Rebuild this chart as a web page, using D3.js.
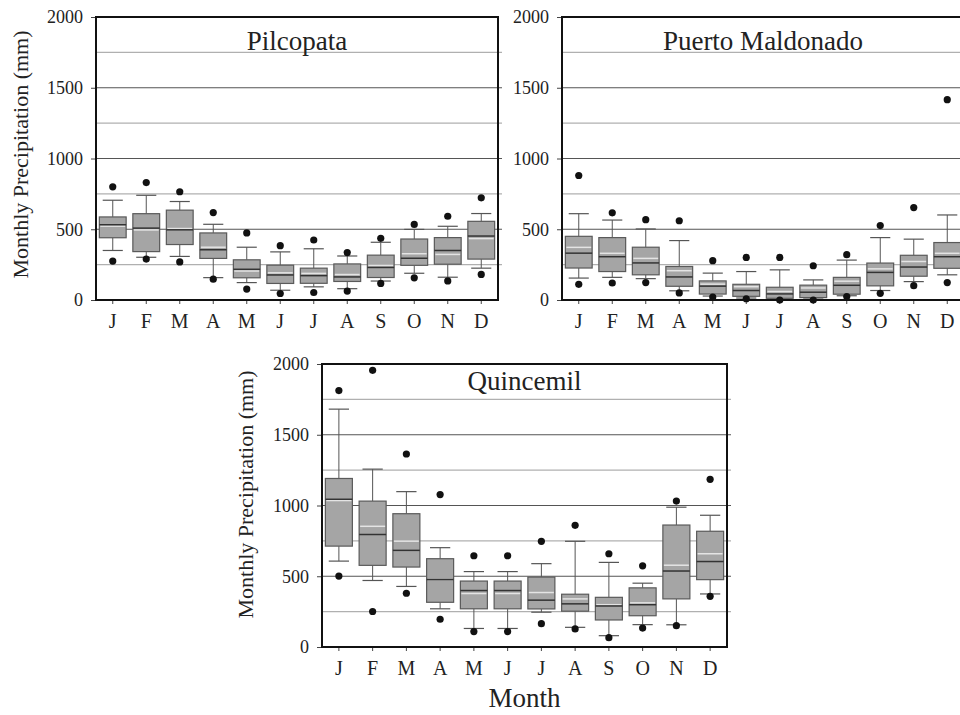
<!DOCTYPE html>
<html>
<head>
<meta charset="utf-8">
<script src="https://cdn.jsdelivr.net/npm/d3@7"></script>
<style>
  html, body { margin: 0; padding: 0; background: #fff; }
  svg { display: block; }
  text { font-family: "Liberation Serif", "Times New Roman", Times, "DejaVu Serif", serif; fill: #222; }
</style>
</head>
<body>
<svg id="chart" width="960" height="715"></svg>
<script>
// Month initials along the x axis
const months = ["J", "F", "M", "A", "M", "J", "J", "A", "S", "O", "N", "D"];
const yTicks = [0, 500, 1000, 1500, 2000];
const gridValues = [250, 500, 750, 1000, 1250, 1500, 1750];

// Pilcopata monthly precipitation statistics (mm)
const pilcopataOutHigh = [800, 830, 765, 618, 474, 384, 424, 335, 436, 534, 592, 722];
const pilcopataWhiskHigh = [705, 740, 696, 535, 373, 340, 362, 311, 408, 499, 521, 611];
const pilcopataQ3 = [587, 610, 635, 474, 284, 246, 225, 255, 317, 431, 441, 556];
const pilcopataMean = [522, 495, 505, 373, 205, 192, 188, 180, 244, 327, 322, 434];
const pilcopataMedian = [532, 508, 496, 355, 217, 177, 172, 163, 230, 295, 350, 452];
const pilcopataQ1 = [440, 342, 392, 294, 157, 117, 118, 131, 159, 245, 253, 289];
const pilcopataWhiskLow = [350, 302, 308, 158, 123, 69, 93, 80, 134, 189, 161, 225];
const pilcopataOutLow = [275, 289, 269, 147, 77, 46, 53, 63, 117, 157, 135, 181];

// Puerto Maldonado monthly precipitation statistics (mm)
const maldonadoOutHigh = [880, 616, 568, 560, 278, 301, 301, 242, 320, 526, 653, 1416];
const maldonadoWhiskHigh = [610, 565, 502, 420, 190, 201, 213, 142, 282, 441, 430, 601];
const maldonadoQ3 = [450, 441, 373, 237, 135, 111, 90, 105, 160, 261, 316, 406];
const maldonadoMean = [372, 330, 294, 207, 112, 94, 60, 85, 133, 220, 272, 330];
const maldonadoMedian = [331, 306, 262, 163, 98, 67, 43, 55, 104, 195, 233, 306];
const maldonadoQ1 = [226, 201, 178, 97, 42, 26, 12, 17, 41, 100, 168, 224];
const maldonadoWhiskLow = [155, 160, 151, 65, 28, 14, 5, 7, 30, 67, 130, 178];
const maldonadoOutLow = [111, 120, 123, 50, 21, 9, 0, 0, 24, 47, 101, 123];

// Quincemil monthly precipitation statistics (mm)
const quincemilOutHigh = [1812, 1955, 1364, 1077, 645, 645, 747, 860, 659, 574, 1031, 1185];
const quincemilWhiskHigh = [1681, 1257, 1098, 702, 533, 533, 589, 747, 598, 451, 988, 931];
const quincemilQ3 = [1191, 1031, 942, 624, 466, 466, 494, 373, 351, 418, 862, 818];
const quincemilMean = [1035, 853, 748, 478, 378, 378, 385, 340, 299, 312, 578, 659];
const quincemilMedian = [1044, 795, 683, 477, 399, 399, 331, 305, 290, 299, 537, 604];
const quincemilQ1 = [713, 577, 565, 316, 270, 270, 269, 253, 191, 221, 340, 476];
const quincemilWhiskLow = [607, 470, 428, 270, 131, 131, 246, 139, 80, 158, 157, 375];
const quincemilOutLow = [501, 251, 380, 196, 109, 109, 165, 128, 66, 134, 151, 358];

const SERIF = '"Liberation Serif", "Times New Roman", Times, "DejaVu Serif", serif';

function stats(outHigh, whiskHigh, q3, mean, median, q1, whiskLow, outLow) {
  return months.map((m, i) => ({
    i, outHigh: outHigh[i], whiskHigh: whiskHigh[i], q3: q3[i], mean: mean[i],
    median: median[i], q1: q1[i], whiskLow: whiskLow[i], outLow: outLow[i]
  }));
}

const panels = [
  { title: "Pilcopata", x0: 96, x1: 498, y0: 17, y1: 300, titleDy: 33, yLabel: true, labelX: 20, labelShift: -4,
    data: stats(pilcopataOutHigh, pilcopataWhiskHigh, pilcopataQ3, pilcopataMean, pilcopataMedian, pilcopataQ1, pilcopataWhiskLow, pilcopataOutLow) },
  { title: "Puerto Maldonado", x0: 562, x1: 964, y0: 17, y1: 300, titleDy: 33, yLabel: false,
    data: stats(maldonadoOutHigh, maldonadoWhiskHigh, maldonadoQ3, maldonadoMean, maldonadoMedian, maldonadoQ1, maldonadoWhiskLow, maldonadoOutLow) },
  { title: "Quincemil", x0: 322, x1: 727, y0: 364, y1: 647, titleDy: 26, yLabel: true, labelX: 245, labelShift: -11, xLabel: "Month",
    data: stats(quincemilOutHigh, quincemilWhiskHigh, quincemilQ3, quincemilMean, quincemilMedian, quincemilQ1, quincemilWhiskLow, quincemilOutLow) }
];

const svg = d3.select("#chart");

panels.forEach(p => {
  const g = svg.append("g");
  const x = d3.scaleBand().domain(d3.range(months.length)).range([p.x0, p.x1]).padding(0);
  const y = d3.scaleLinear().domain([0, 2000]).range([p.y1, p.y0]);
  const bw = x.bandwidth();
  const boxW = bw * 0.8;
  const capW = bw * 0.6;

  // horizontal reference lines
  g.append("g").selectAll("line").data(gridValues).join("line")
    .attr("x1", p.x0).attr("x2", p.x1 + 4)
    .attr("y1", d => y(d)).attr("y2", d => y(d))
    .attr("stroke", d => d % 500 === 0 ? "#555" : "#b0b0b0")
    .attr("stroke-width", 1.2);

  // y axis
  const yAxis = g.append("g").attr("transform", `translate(${p.x0},0)`)
    .call(d3.axisLeft(y).tickValues(yTicks).tickSize(5).tickPadding(8).tickFormat(d3.format("d")));
  yAxis.attr("font-family", null).attr("font-size", null);
  yAxis.select(".domain").remove();
  yAxis.selectAll(".tick line").attr("stroke", "#444");
  yAxis.selectAll("text").style("font-size", "18px").style("font-family", SERIF).attr("fill", "#2a2a2a");

  // x axis
  const xAxis = g.append("g").attr("transform", `translate(0,${p.y1})`)
    .call(d3.axisBottom(x).tickSize(4).tickPadding(10).tickFormat(i => months[i]));
  xAxis.attr("font-family", null).attr("font-size", null);
  xAxis.select(".domain").remove();
  xAxis.selectAll(".tick line").attr("stroke", "#444");
  xAxis.selectAll("text").style("font-size", "20px").style("font-family", SERIF).attr("fill", "#2a2a2a");

  const box = g.append("g").selectAll("g").data(p.data).join("g")
    .attr("transform", d => `translate(${x(d.i) + bw / 2},0)`);

  // whiskers
  box.append("line").attr("x1", 0).attr("x2", 0)
    .attr("y1", d => y(d.q3)).attr("y2", d => y(d.whiskHigh))
    .attr("stroke", "#555").attr("stroke-width", 1);
  box.append("line").attr("x1", 0).attr("x2", 0)
    .attr("y1", d => y(d.q1)).attr("y2", d => y(d.whiskLow))
    .attr("stroke", "#555").attr("stroke-width", 1);
  box.append("line").attr("x1", -capW / 2).attr("x2", capW / 2)
    .attr("y1", d => y(d.whiskHigh)).attr("y2", d => y(d.whiskHigh))
    .attr("stroke", "#555").attr("stroke-width", 1.2);
  box.append("line").attr("x1", -capW / 2).attr("x2", capW / 2)
    .attr("y1", d => y(d.whiskLow)).attr("y2", d => y(d.whiskLow))
    .attr("stroke", "#555").attr("stroke-width", 1.2);

  // interquartile box
  box.append("rect")
    .attr("x", -boxW / 2).attr("width", boxW)
    .attr("y", d => y(d.q3)).attr("height", d => y(d.q1) - y(d.q3))
    .attr("fill", "#a5a5a5").attr("stroke", "#5a5a5a").attr("stroke-width", 1.2);

  // mean (light) and median (dark) lines
  box.append("line").attr("x1", -boxW / 2 + 1).attr("x2", boxW / 2 - 1)
    .attr("y1", d => y(d.mean)).attr("y2", d => y(d.mean))
    .attr("stroke", "#e4e4e4").attr("stroke-width", 1.5);
  box.append("line").attr("x1", -boxW / 2).attr("x2", boxW / 2)
    .attr("y1", d => y(d.median)).attr("y2", d => y(d.median))
    .attr("stroke", "#333").attr("stroke-width", 1.5);

  // extreme values
  box.append("circle").attr("r", 3.6).attr("cy", d => y(d.outHigh)).attr("fill", "#111");
  box.append("circle").attr("r", 3.6).attr("cy", d => y(d.outLow)).attr("fill", "#111");

  // frame
  g.append("rect").attr("x", p.x0).attr("y", p.y0)
    .attr("width", p.x1 - p.x0).attr("height", p.y1 - p.y0)
    .attr("fill", "none").attr("stroke", "#111").attr("stroke-width", 2);

  // station name
  g.append("text").attr("x", (p.x0 + p.x1) / 2).attr("y", p.y0 + p.titleDy)
    .attr("text-anchor", "middle").style("font-family", SERIF).style("font-size", "27px").text(p.title);

  if (p.yLabel) {
    const cy = (p.y0 + p.y1) / 2 + p.labelShift;
    g.append("text")
      .attr("transform", `translate(${p.labelX},${cy}) rotate(-90)`)
      .attr("text-anchor", "middle").attr("dy", "0.35em")
      .style("font-family", SERIF).style("font-size", "22px").attr("fill", "#333")
      .text("Monthly Precipitation (mm)");
  }
  if (p.xLabel) {
    g.append("text").attr("x", (p.x0 + p.x1) / 2).attr("y", p.y1 + 60)
      .attr("text-anchor", "middle").style("font-family", SERIF).style("font-size", "27px").text(p.xLabel);
  }
});
</script>
</body>
</html>
